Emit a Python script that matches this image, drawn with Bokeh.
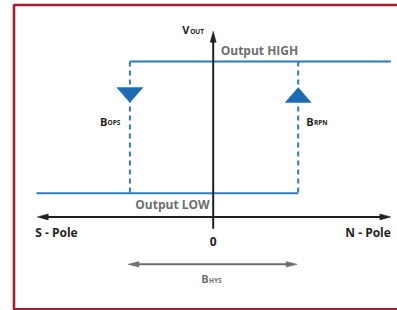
from bokeh.plotting import figure
from bokeh.models import Range1d, BoxAnnotation
from bokeh.core.properties import value
from bokeh.embed import file_html
from bokeh.resources import INLINE

# ---- diagram values (field B in arbitrary units, output V normalised) ----
B_OPS = -0.98          # operate point (S-pole side)
B_RPN = 1.0            # release point (N-pole side)
V_LOW = 0.0
V_HIGH = 1.0
B_AXIS = [-2.07, 2.09]     # extent of the horizontal (B) axis
V_AXIS = [-0.27, 1.23]     # extent of the vertical (V_OUT) axis
V_XAXIS = -0.18            # level of the B axis
B_LINE = [-2.08, 2.09]     # extent of the output lines
V_HYS = -0.54              # level of the hysteresis arrow
V_MARK = 0.745             # level of the direction triangles
LABELS_POLE = ["S - Pole", "N - Pole"]

# ---- layout ----
W, H = 397, 310
OX, OY = 212.7, 192.7      # pixel position of B=0, V=0
PX_B, PX_V = 85.0, 131.7   # pixels per unit

x0, x1 = -OX / PX_B, (W - OX) / PX_B
y0, y1 = (OY - H) / PX_V, OY / PX_V

def dx(px):
    return px / PX_B

def dy(px):          # positive = upwards on screen
    return px / PX_V

BLUE = "#2a7bc0"
BLUE_DARK = "#1b6cb3"
BLACK = "#231f20"
GRAY = "#6d6e71"
RED = "#a81c33"
FONT = value("Open Sans")

p = figure(width=W, height=H, x_range=Range1d(x0, x1), y_range=Range1d(y0, y1),
           output_backend="svg", toolbar_location=None, min_border=0,
           x_axis_location=None, y_axis_location=None)
p.grid.grid_line_color = None
p.outline_line_color = None
p.background_fill_color = "white"
p.border_fill_color = "white"

# frame
p.add_layout(BoxAnnotation(left=x0 + dx(13.5), right=x1 + dx(30),
                           top=y1 - dy(4.5), bottom=y1 - dy(308.7),
                           fill_alpha=0, line_alpha=1, line_color=RED, line_width=2.6))

def head(tx, ty, ux, uy, L, Wd):
    bxp, byp = -ux * L, -uy * L
    px_, py_ = -uy, ux
    xs = [tx, tx + dx(bxp + px_ * Wd / 2), tx + dx(bxp - px_ * Wd / 2)]
    ys = [ty, ty + dy(byp + py_ * Wd / 2), ty + dy(byp - py_ * Wd / 2)]
    return xs, ys

# output lines
p.line([B_OPS, B_LINE[1]], [V_HIGH, V_HIGH], line_color=BLUE, line_width=2, line_join="round")
p.line([B_LINE[0], B_RPN], [V_LOW, V_LOW], line_color=BLUE, line_width=2)
# switching dashed lines
p.line([B_OPS, B_OPS], [V_HIGH, V_LOW], line_color=BLUE, line_width=2, line_dash="5 4")
p.line([B_RPN, B_RPN], [V_HIGH, V_LOW], line_color=BLUE, line_width=2, line_dash="5 4")

# direction triangles
tw, th = 26, 15
p.patch([B_OPS - dx(tw / 2), B_OPS + dx(tw / 2), B_OPS],
        [V_MARK + dy(th / 2), V_MARK + dy(th / 2), V_MARK - dy(th / 2)],
        fill_color=BLUE_DARK, line_color=BLUE_DARK, line_width=0.5)
p.patch([B_RPN - dx(tw / 2), B_RPN + dx(tw / 2), B_RPN],
        [V_MARK - dy(th / 2), V_MARK - dy(th / 2), V_MARK + dy(th / 2)],
        fill_color=BLUE_DARK, line_color=BLUE_DARK, line_width=0.5)

# B axis (double headed)
L, Wd = 11, 6
p.line([B_AXIS[0] + dx(6), B_AXIS[1] - dx(6)], [V_XAXIS, V_XAXIS], line_color=BLACK, line_width=2)
for tip, ux in ((B_AXIS[0], -1), (B_AXIS[1], 1)):
    xs, ys = head(tip, V_XAXIS, ux, 0, L, Wd)
    p.patch(xs, ys, fill_color=BLACK, line_color=BLACK, line_width=0.5)
# V axis
p.line([0, 0], [V_AXIS[0], V_AXIS[1] - dy(6)], line_color=BLACK, line_width=2)
xs, ys = head(0, V_AXIS[1], 0, 1, L, Wd)
p.patch(xs, ys, fill_color=BLACK, line_color=BLACK, line_width=0.5)

# hysteresis arrow
p.line([B_OPS + dx(6), B_RPN - dx(6)], [V_HYS, V_HYS], line_color=GRAY, line_width=2)
for tip, ux in ((B_OPS - dx(2), -1), (B_RPN - dx(1), 1)):
    xs, ys = head(tip, V_HYS, ux, 0, 11, 5.5)
    p.patch(xs, ys, fill_color=GRAY, line_color=GRAY, line_width=0.5)

# ---- texts (positioned by their vertical centre) ----
def txt(x, y, s, size, color=BLACK, align="left"):
    p.text([x], [y], text=[s], text_font=FONT, text_font_style="bold",
           text_font_size=f"{size}px", text_color=color, text_align=align,
           text_baseline="middle")

# V_OUT
txt(0 - dx(31), V_AXIS[1] - dy(-2), "V", 11)
txt(0 - dx(23), V_AXIS[1] - dy(0.5), "OUT", 6.5)
# Output HIGH / LOW
txt(0 + dx(7.5), V_HIGH + dy(11), "Output HIGH", 12, GRAY)
txt(0 - dx(3.5), V_LOW - dy(11), "Output LOW", 12, GRAY, "right")
# poles
txt(B_AXIS[0] - dx(2), V_XAXIS - dy(16), LABELS_POLE[0], 12)
txt(B_AXIS[1], V_XAXIS - dy(16), LABELS_POLE[1], 12, align="right")
# zero
txt(0, V_XAXIS - dy(25), "0", 12, align="center")
# B_OPS, B_RPN
mid = (V_HIGH + V_LOW) / 2
txt(B_OPS - dx(30), mid - dy(-5.5), "B", 11)
txt(B_OPS - dx(22.3), mid - dy(-4.5), "OPS", 6.5)
txt(B_RPN + dx(8), mid - dy(-5.5), "B", 11)
txt(B_RPN + dx(15.7), mid - dy(-4.5), "RPN", 6.5)
# B_HYS
hm = (B_OPS + B_RPN) / 2
txt(hm - dx(12.7), V_HYS - dy(14), "B", 11, GRAY)
txt(hm - dx(5), V_HYS - dy(16), "HYS", 6.5, GRAY)

open("out.html", "w").write(file_html(p, INLINE))
